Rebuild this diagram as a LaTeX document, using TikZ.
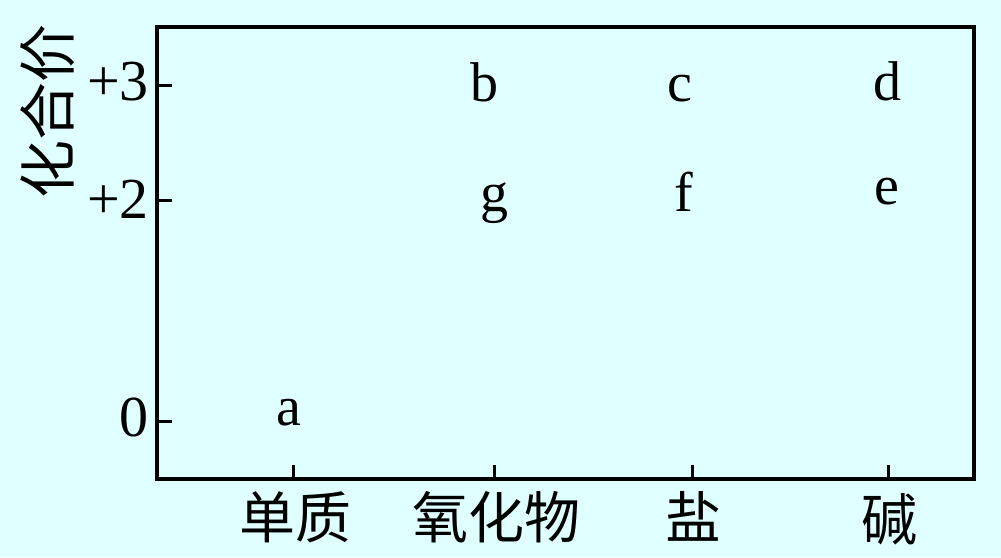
\documentclass[tikz,border=0pt]{standalone}
\usepackage{fontspec}
\setmainfont{Liberation Serif}
\newfontfamily\cjk{Noto Sans CJK SC}
\definecolor{bgcyan}{RGB}{224,255,255}
\begin{document}
\begin{tikzpicture}[x=1pt,y=-1pt,
  lat/.style={inner sep=0pt,anchor=base,font=\fontsize{56}{60}\selectfont},
  num/.style={inner sep=0pt,anchor=base east,font=\fontsize{58}{62}\selectfont},
  zh/.style={inner sep=0pt,anchor=base,font=\cjk\fontsize{56}{60}\selectfont},
  axisline/.style={line width=3.5pt,line join=miter},
  tick/.style={line width=3pt}]
\fill[bgcyan] (0,0) rectangle (1001,557);
\useasboundingbox (0,0) rectangle (1001,557);
% frame
\coordinate (TL) at (157,27);
\coordinate (BR) at (974,479);
\draw[axisline] (TL) rectangle (BR);
% y ticks
\coordinate (y3) at (157,85);
\coordinate (y2) at (157,200);
\coordinate (y0) at (157,421);
\draw[tick] (y3) -- ++(15,0);
\draw[tick] (y2) -- ++(15,0);
\draw[tick] (y0) -- ++(15,0);
\node[num] (l3) at (149,100) {+3};
\node[num] (l2) at (149,218) {+2};
\node[num] (l0) at (149,436) {0};
% x ticks
\coordinate (xa) at (293,479);
\coordinate (xb) at (494,479);
\coordinate (xc) at (692,479);
\coordinate (xd) at (888,479);
\draw[tick] (xa) -- ++(0,-14);
\draw[tick] (xb) -- ++(0,-14);
\draw[tick] (xc) -- ++(0,-14);
\draw[tick] (xd) -- ++(0,-14);
% category labels
\node[zh] (c1) at (295,538) {单质};
\node[zh] (c2) at (496,538) {氧化物};
\node[zh] (c3) at (693,538) {盐};
\node[zh] (c4) at (889,540) {碱};
% axis title
\node[zh,rotate=90,font=\cjk\fontsize{58}{62}\selectfont] (yt) at (69,111) {化合价};
% points
\node[lat] (a) at (289,425) {a};
\node[lat] (b) at (484,101) {b};
\node[lat] (c) at (680,101) {c};
\node[lat] (d) at (887,100) {d};
\node[lat] (g) at (494,211) {g};
\node[lat] (f) at (684,211) {f};
\node[lat] (e) at (887,204) {e};
\end{tikzpicture}
\end{document}
